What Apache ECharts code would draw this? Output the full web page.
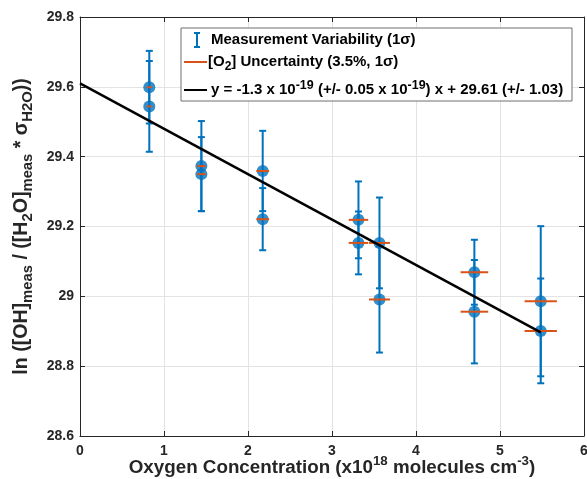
<!DOCTYPE html>
<html>
<head>
<meta charset="utf-8">
<script src="https://cdn.jsdelivr.net/npm/echarts@6/dist/echarts.min.js"></script>
<style>
html,body{margin:0;padding:0;background:#fff;}
#chart{width:587px;height:479px;}
</style>
</head>
<body>
<div id="chart"></div>
<script>
// ---- data ----
const xValues = [0.825, 0.825, 1.445, 1.445, 2.175, 2.175, 3.315, 3.315, 3.565, 3.565, 4.695, 4.695, 5.485, 5.485];
const yValues = [29.599, 29.544, 29.373, 29.350, 29.359, 29.221, 29.219, 29.153, 29.153, 28.991, 29.069, 28.956, 28.986, 28.901];
const yErrors = [0.104, 0.13, 0.129, 0.106, 0.115, 0.089, 0.11, 0.09, 0.13, 0.152, 0.093, 0.148, 0.215, 0.15];
const o2UncertaintyFrac = 0.035;
const fitSlope = -0.13;      // x 10^-19 per unit of x (x in 10^18)
const fitIntercept = 29.61;
const fitXRange = [0, 5.485];
const xTicks = [0, 1, 2, 3, 4, 5, 6];
const yTicks = [28.6, 28.8, 29, 29.2, 29.4, 29.6, 29.8];
const legendLabels = [
  'Measurement Variability (1σ)',
  '{t|[O}{sub|2}{t|] Uncertainty (3.5%, 1σ)}',
  '{t|y = -1.3 x 10}{sup|-19}{t| (+/- 0.05 x 10}{sup|-19}{t|) x + 29.61 (+/- 1.03)}'
];

const FONT = "'Liberation Sans', Arial, Helvetica, sans-serif";
const TXT = '#262626';
const BLUE = '#0072BD';
const ORANGE = '#D95319';

const errData = xValues.map((x, i) => [x, yValues[i], yErrors[i]]);
const ptData = xValues.map((x, i) => [x, yValues[i]]);
const fitData = fitXRange.map(x => [x, fitIntercept + fitSlope * x]);

const chart = echarts.init(document.getElementById('chart'), null, {renderer: 'canvas'});

const axisCommon = {
  axisLine: {show: true, onZero: false, lineStyle: {color: TXT, width: 1}},
  axisTick: {show: true, inside: true, length: 5, lineStyle: {color: TXT, width: 1}},
};

const LZ = 100;
const option = {
  backgroundColor: '#fff',
  animation: false,
  grid: {left: 80, right: 3, top: 17, bottom: 43, containLabel: false, outerBoundsMode: 'none'},
  xAxis: [
    Object.assign({
      type: 'value', min: xTicks[0], max: xTicks[xTicks.length - 1], interval: 1,
      position: 'bottom',
      splitLine: {show: true, lineStyle: {color: '#e3e3e3', width: 1}},
      axisLabel: {color: TXT, fontSize: 14, fontWeight: 'bold', fontFamily: FONT, margin: 8},
      name: '{t|Oxygen Concentration (x10}{sup|18}{t| molecules cm}{sup|-3}{t|)}',
      nameLocation: 'middle', nameGap: 19, nameMoveOverlap: false,
      nameTextStyle: {
        color: TXT, fontFamily: FONT, fontWeight: 'bold', fontSize: 18.8,
        rich: {
          t: {fontSize: 18.8, fontWeight: 'bold', fontFamily: FONT, color: TXT, lineHeight: 26, verticalAlign: 'middle'},
          sup: {fontSize: 13.3, fontWeight: 'bold', fontFamily: FONT, color: TXT, lineHeight: 11, verticalAlign: 'top'}
        }
      }
    }, axisCommon),
    Object.assign({
      type: 'value', min: xTicks[0], max: xTicks[xTicks.length - 1], interval: 1,
      position: 'top', splitLine: {show: false}, axisLabel: {show: false}
    }, axisCommon)
  ],
  yAxis: [
    Object.assign({
      type: 'value', min: yTicks[0], max: yTicks[yTicks.length - 1], interval: 0.2,
      position: 'left',
      splitLine: {show: true, lineStyle: {color: '#e3e3e3', width: 1}},
      axisLabel: {color: TXT, fontSize: 14, fontWeight: 'bold', fontFamily: FONT, margin: 6},
      name: '{t|ln ([OH]}{sub|meas}{t| / ([H}{sub|2}{t|O]}{sub|meas}{t| * σ}{sub|H2O}{t|))}',
      nameLocation: 'middle', nameGap: 45, nameRotate: 90, nameMoveOverlap: false,
      nameTextStyle: {
        color: TXT, fontFamily: FONT, fontWeight: 'bold', fontSize: 19.6,
        rich: {
          t: {fontSize: 19.6, fontWeight: 'bold', fontFamily: FONT, color: TXT, lineHeight: 26, verticalAlign: 'middle'},
          sub: {fontSize: 14.8, fontWeight: 'bold', fontFamily: FONT, color: TXT, lineHeight: 11, verticalAlign: 'bottom'}
        }
      }
    }, axisCommon),
    Object.assign({
      type: 'value', min: yTicks[0], max: yTicks[yTicks.length - 1], interval: 0.2,
      position: 'right', splitLine: {show: false}, axisLabel: {show: false}
    }, axisCommon)
  ],
  series: [
    {
      name: 'Measurement Variability (1σ)',
      type: 'custom',
      xAxisIndex: 0, yAxisIndex: 0,
      data: errData,
      encode: {x: 0, y: 1},
      z: 2,
      renderItem: function (params, api) {
        const x = api.value(0), y = api.value(1), e = api.value(2);
        const top = api.coord([x, y + e]);
        const bot = api.coord([x, y - e]);
        const hw = 3.5;
        const st = {stroke: BLUE, lineWidth: 2};
        return {
          type: 'group',
          children: [
            {type: 'line', shape: {x1: top[0], y1: top[1], x2: bot[0], y2: bot[1]}, style: st},
            {type: 'line', shape: {x1: top[0] - hw, y1: top[1], x2: top[0] + hw, y2: top[1]}, style: st},
            {type: 'line', shape: {x1: bot[0] - hw, y1: bot[1], x2: bot[0] + hw, y2: bot[1]}, style: st}
          ]
        };
      }
    },
    {
      name: 'points',
      type: 'scatter',
      data: ptData,
      symbol: 'circle',
      symbolSize: 12,
      itemStyle: {color: BLUE},
      z: 3
    },
    {
      name: '[O2] Uncertainty (3.5%, 1σ)',
      type: 'custom',
      data: ptData,
      encode: {x: 0, y: 1},
      z: 4,
      renderItem: function (params, api) {
        const x = api.value(0), y = api.value(1);
        const l = api.coord([x * (1 - o2UncertaintyFrac), y]);
        const r = api.coord([x * (1 + o2UncertaintyFrac), y]);
        return {type: 'line', shape: {x1: l[0], y1: l[1], x2: r[0], y2: r[1]}, style: {stroke: ORANGE, lineWidth: 2}};
      }
    },
    {
      name: 'fit',
      type: 'line',
      data: fitData,
      symbol: 'none',
      lineStyle: {color: '#000', width: 2.5},
      z: 5
    }
  ],
  graphic: [
    {type: 'rect', z: LZ, shape: {x: 181, y: 28, width: 391, height: 73}, style: {fill: '#ffffff', stroke: '#6e6e6e', lineWidth: 1}},
    // error bar icon
    {type: 'line', z: LZ + 1, shape: {x1: 197, y1: 33, x2: 197, y2: 47}, style: {stroke: BLUE, lineWidth: 2}},
    {type: 'line', z: LZ + 1, shape: {x1: 194, y1: 33, x2: 200, y2: 33}, style: {stroke: BLUE, lineWidth: 2}},
    {type: 'line', z: LZ + 1, shape: {x1: 194, y1: 47, x2: 200, y2: 47}, style: {stroke: BLUE, lineWidth: 2}},
    {type: 'text', z: LZ + 1, x: 211, y: 40, style: {text: legendLabels[0], font: 'bold 15px ' + FONT, fill: '#000', verticalAlign: 'middle'}},
    {type: 'line', z: LZ + 1, shape: {x1: 184, y1: 62, x2: 207, y2: 62}, style: {stroke: ORANGE, lineWidth: 2}},
    {type: 'text', z: LZ + 1, x: 208, y: 62, style: {
      text: legendLabels[1], verticalAlign: 'middle',
      rich: {
        t: {font: 'bold 15px ' + FONT, fill: '#000', lineHeight: 22, verticalAlign: 'middle'},
        sub: {font: 'bold 12px ' + FONT, fill: '#000', lineHeight: 9, verticalAlign: 'bottom'}
      }
    }},
    {type: 'line', z: LZ + 1, shape: {x1: 184, y1: 90, x2: 207, y2: 90}, style: {stroke: '#000', lineWidth: 2}},
    {type: 'text', z: LZ + 1, x: 211, y: 90, style: {
      text: legendLabels[2], verticalAlign: 'middle',
      rich: {
        t: {font: 'bold 15px ' + FONT, fill: '#000', lineHeight: 22, verticalAlign: 'middle'},
        sup: {font: 'bold 12.5px ' + FONT, fill: '#000', lineHeight: 9, verticalAlign: 'top'}
      }
    }}
  ]
};
chart.setOption(option);
</script>
</body>
</html>
